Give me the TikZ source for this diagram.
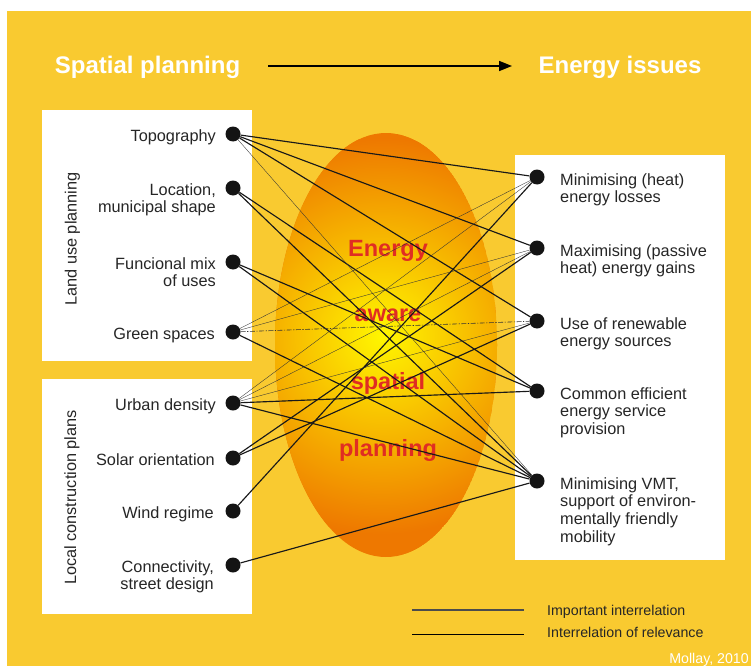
\documentclass[tikz,border=0pt]{standalone}
\usepackage{fontspec}
\setmainfont{Liberation Sans}
\usetikzlibrary{arrows.meta,positioning}
\definecolor{bgyellow}{RGB}{249,202,48}
\definecolor{ovalout}{RGB}{238,120,0}
\definecolor{ovalin}{RGB}{255,246,0}
\definecolor{wordred}{RGB}{224,45,35}
\definecolor{labelgray}{RGB}{38,38,38}
\newcommand{\rtext}[1]{\begin{tabular}[t]{@{}r@{}}#1\end{tabular}}
\newcommand{\ltext}[1]{\begin{tabular}[t]{@{}l@{}}#1\end{tabular}}
\tikzset{
  dot/.style={circle,fill=black!92,inner sep=0pt,minimum size=15pt},
  lbl/.style={inner sep=0pt,text=labelgray,font=\fontsize{16.3}{17.9}\selectfont},
  keytext/.style={inner sep=0pt,text=labelgray,font=\fontsize{14.2}{16}\selectfont,anchor=base west},
  important/.style={line width=1.15pt,black!90},
  relevance/.style={line width=0.35pt,black!80},
  word/.style={font=\fontsize{23.5}{26}\selectfont\bfseries,text=wordred,inner sep=0pt,anchor=base},
  headline/.style={font=\fontsize{24}{28}\selectfont\bfseries,text=white,inner sep=0pt,anchor=base},
}
\begin{document}
\begin{tikzpicture}[x=1pt,y=-1pt]
  \useasboundingbox (0,0) rectangle (751,666);
  \fill[white] (0,0) rectangle (751,666);
  \fill[bgyellow] (7,11) rectangle (751,666);
  % white panels
  \fill[white] (42,110) rectangle (252,361);
  \fill[white] (42,379) rectangle (252,614);
  \fill[white] (515,155) rectangle (725,560);
  % the oval
  \begin{scope}
    \clip (386,345) ellipse [x radius=111pt,y radius=212pt];
    \fill[ovalout] (386,345) ellipse [x radius=111pt,y radius=212pt];
    \shade[inner color=ovalin,outer color=ovalout] (382,336) circle [radius=198pt];
  \end{scope}
  \node[word] (energy) at (388,256.5) {Energy};
  \node[word] (aware) at (388,321.5) {aware};
  \node[word] (spatial) at (388,389) {spatial};
  \node[word] (planning) at (388,456.5) {planning};
  % headings
  \node[headline] (spl) at (147.5,73.5) {Spatial planning};
  \node[headline] (eni) at (620,73.5) {Energy issues};
  \coordinate (arrfrom) at (268,66);
  \coordinate (arrto) at (512,66);
  \draw[-{Triangle[length=13pt,width=10pt]},line width=1.7pt] (arrfrom) -- (arrto);
  % group labels
  \node[lbl,rotate=90,anchor=base] (landuse) at (76.5,239) {Land use planning};
  \node[lbl,rotate=90,anchor=base] (local) at (76,497.5) {Local construction plans};
  % dots
  \foreach \n/\y in {topo/134,loc/188,mix/262,green/332,dens/403,solar/458,wind/511,conn/565}
    \node[dot] (\n) at (233,\y) {};
  \foreach \n/\y in {loss/177,gain/248,renew/321,supply/391,vmt/481}
    \node[dot] (\n) at (537,\y) {};
  % left texts
  \node[lbl,anchor=base east] (topo-t) at (216,141) {\rtext{Topography}};
  \node[lbl,anchor=base east] (loc-t) at (216,195) {\rtext{Location,\\municipal shape}};
  \node[lbl,anchor=base east] (mix-t) at (216,269) {\rtext{Funcional mix\\of uses\ }};
  \node[lbl,anchor=base east] (green-t) at (215,339) {\rtext{Green spaces}};
  \node[lbl,anchor=base east] (dens-t) at (216,410) {\rtext{Urban density}};
  \node[lbl,anchor=base east] (solar-t) at (215,465) {\rtext{Solar orientation}};
  \node[lbl,anchor=base east] (wind-t) at (214,518) {\rtext{Wind regime}};
  \node[lbl,anchor=base east] (conn-t) at (214,572) {\rtext{Connectivity,\\street design}};
  % right texts
  \node[lbl,anchor=base west] (loss-t) at (560,185) {\ltext{Minimising (heat)\\energy losses}};
  \node[lbl,anchor=base west] (gain-t) at (560,256) {\ltext{Maximising (passive\\heat) energy gains}};
  \node[lbl,anchor=base west] (renew-t) at (560,329) {\ltext{Use of renewable\\energy sources}};
  \node[lbl,anchor=base west] (supply-t) at (560,399) {\ltext{Common efficient\\energy service\\provision}};
  \node[lbl,anchor=base west] (vmt-t) at (560,489) {\ltext{Minimising VMT,\\support of environ-\\mentally friendly\\mobility}};
  % interrelations
  \foreach \a/\b in {topo/loss,topo/gain,topo/renew,loc/supply,loc/vmt,mix/supply,mix/vmt,
                     green/vmt,dens/supply,dens/vmt,solar/gain,solar/renew,wind/loss,conn/vmt}
    \draw[important] (\a) -- (\b);
  \foreach \a/\b in {topo/vmt,green/loss,green/gain,dens/loss,dens/gain,dens/renew}
    \draw[relevance] (\a) -- (\b);
  \draw[relevance,line width=0.6pt,dash pattern=on 5pt off 1.5pt on 1.2pt off 1.5pt] (green) -- (renew);
  % key
  \coordinate (keyA1) at (412,610);
  \coordinate (keyA2) at (524,610);
  \coordinate (keyB1) at (412,634);
  \coordinate (keyB2) at (524,634);
  \draw[line width=1.6pt,black!70] (keyA1) -- (keyA2);
  \draw[line width=0.8pt,black] (keyB1) -- (keyB2);
  \node[keytext] (keyA) at (547,615) {Important interrelation};
  \node[keytext] (keyB) at (547,637.5) {Interrelation of relevance};
  \node[keytext,text=white,anchor=base east] (credit) at (749,663) {Mollay, 2010};
\end{tikzpicture}
\end{document}
